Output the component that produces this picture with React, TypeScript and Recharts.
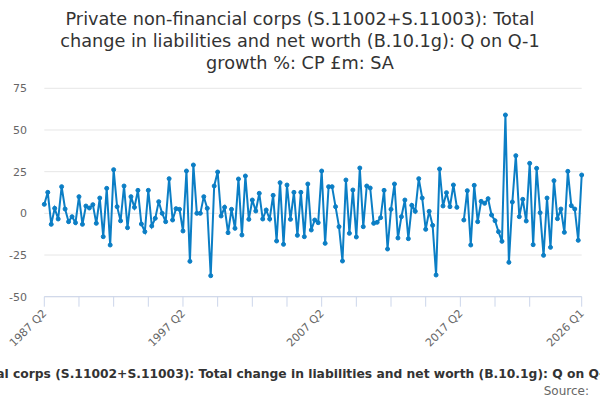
import React from 'react'
import { LineChart, Line, XAxis, YAxis, CartesianGrid } from 'recharts'

// ── Data ───────────────────────────────────────────────────────────

const FIRST_YEAR = 1987
const FIRST_QUARTER = 2

// Q on Q-1 growth %, 1987 Q2 .. 2026 Q1 (2017 Q2 missing)
const GROWTH: (number | null)[] = [
  5.4, 12.6, -6.6, 3, -3.4, 16, 2.6, -5, -2, -5.6,
  10, -6.6, 4.4, 3.2, 5.2, -6, 9.2, -14, 15, -19,
  26.2, 4, -4.5, 16.4, -8.6, 10, 3.6, 13.8, -6.4, -11,
  13.8, -7.6, -3, 7, 0, -5, 20.8, -4, 2.8, 2.4,
  -10.6, 25.4, -28.8, 29, 0, 0, 10, 3, -37.4, 16.4,
  24.8, -1.6, 3.6, -11.6, 2.4, -9, 20.6, -13, 22.4, -3.6,
  8, 1.4, 12, -3.4, 2, -3.4, 10.8, -16.6, 18.4, -18.6,
  17, -3.6, 12.6, -13.2, 12.6, -14, 17.6, -10, -4, -5.6,
  25.4, -18, 16, 16, 4, -8, -28.6, 20, -12, 14,
  -14.2, 27.2, -8, 16.4, 15.2, -6, -5.4, -2.6, 13.8, -21.4,
  2.4, 17.6, -14.8, -2, 8, -15.2, 4.8, 1.2, 20.8, 9.2,
  -9.6, 1.2, -7.2, -37, 26.6, 4.4, 12.4, 4, 17, 3.6,
  null, -4, 13.6, -19, 16.8, -5, 7.2, 6, 8.8, -1,
  -4.4, -11, -16.8, 59, -29.4, 6.8, 34.6, -2, 8.4, -4.6,
  30, -18.8, 27, 0.4, -25.2, 9.2, -20.4, 19.6, -3.2, 2.6,
  -11.4, 25.2, 4.6, 2.6, -16.2, 23,
]

const QUARTERS: string[] = GROWTH.map((_, i) => {
  const q = FIRST_QUARTER - 1 + i
  return `${FIRST_YEAR + Math.floor(q / 4)} Q${(q % 4) + 1}`
})

const X_TICKS: string[] = [
  '1987 Q2', '1989 Q4', '1992 Q2', '1994 Q4', '1997 Q2', '1999 Q4', '2002 Q2', '2004 Q4',
  '2007 Q2', '2009 Q4', '2012 Q2', '2014 Q4', '2017 Q2', '2019 Q4', '2022 Q2', '2026 Q1',
]
const X_LABELS: string[] = ['1987 Q2', '1997 Q2', '2007 Q2', '2017 Q2', '2026 Q1']
const Y_TICKS: number[] = [-50, -25, 0, 25, 50, 75]

const TITLE_LINES: string[] = [
  'Private non-financial corps (S.11002+S.11003): Total',
  'change in liabilities and net worth (B.10.1g): Q on Q-1',
  'growth %: CP £m: SA',
]
const SERIES_NAME =
  'Private non-financial corps (S.11002+S.11003): Total change in liabilities and net worth (B.10.1g): Q on Q-1 growth %: CP £m: SA'

const data = QUARTERS.map((label, i) => ({ label, value: GROWTH[i] }))

const FONT = "'DejaVu Sans', sans-serif"
const BLUE = '#0b7ec5'

// ── Ticks ──────────────────────────────────────────────────────────

function XTick({ x, payload }: any) {
  if (!X_LABELS.includes(payload.value)) return null
  const px = x + 3
  const py = 314
  return (
    <text
      x={px}
      y={py}
      textAnchor="end"
      fontFamily={FONT}
      fontSize={11}
      fill="#666666"
      transform={`rotate(-45, ${px}, ${py})`}
    >
      {payload.value}
    </text>
  )
}

function YTick({ y, payload }: any) {
  return (
    <text x={27} y={y + 4} textAnchor="end" fontFamily={FONT} fontSize={11} fill="#666666">
      {payload.value}
    </text>
  )
}

// ── Chart ──────────────────────────────────────────────────────────

export default function App() {
  return (
    <div style={{ position: 'absolute', left: 0, top: 0, width: 600, height: 400, background: '#fff' }}>
      <LineChart
        width={600}
        height={400}
        data={data}
        margin={{ top: 88.3, right: 18.3, bottom: 73.3, left: 0 }}
      >
        <CartesianGrid vertical={false} stroke="#e6e6e6" />
        <XAxis
          dataKey="label"
          ticks={X_TICKS}
          interval={0}
          height={30}
          tick={<XTick />}
          tickSize={10}
          tickLine={{ stroke: '#ccd6eb' }}
          axisLine={{ stroke: '#ccd6eb' }}
        />
        <YAxis
          width={44.3}
          domain={[-50, 75]}
          ticks={Y_TICKS}
          axisLine={false}
          tickLine={false}
          tick={<YTick />}
        />
        <Line
          dataKey="value"
          stroke={BLUE}
          strokeWidth={2}
          dot={{ r: 2, fill: BLUE, stroke: BLUE, strokeWidth: 1 }}
          isAnimationActive={false}
        />
      </LineChart>

      {/* title, legend and credits drawn on top */}
      <svg width={600} height={400} style={{ position: 'absolute', left: 0, top: 0, pointerEvents: 'none' }}>
        {TITLE_LINES.map((line, i) => (
          <text key={i} x={300} y={25 + i * 22} textAnchor="middle" fontFamily={FONT} fontSize={17.7} fill="#333333">
            {line}
          </text>
        ))}
        <text x={314} y={378} textAnchor="middle" fontFamily={FONT} fontSize={12.3} fontWeight="bold" fill="#333333">
          {SERIES_NAME}
        </text>
        <text x={589} y={395} textAnchor="end" fontFamily={FONT} fontSize={12} fill="#666666">
          Source:
        </text>
      </svg>
    </div>
  )
}
